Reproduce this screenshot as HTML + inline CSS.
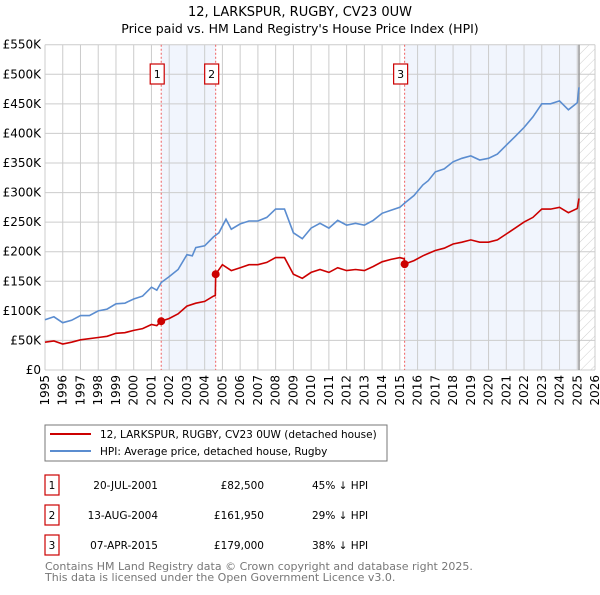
<!DOCTYPE html>
<html><head><meta charset="utf-8"><style>
body{margin:0;background:#fff;font-family:"Liberation Sans","DejaVu Sans",sans-serif;}
svg text{font-family:"DejaVu Sans","Liberation Sans",sans-serif;}
</style></head><body>
<svg id="c" width="600" height="590" viewBox="0 0 600 590" xmlns="http://www.w3.org/2000/svg">
<defs><pattern id="hatch" width="7" height="7" patternUnits="userSpaceOnUse" patternTransform="rotate(45)"><line x1="0" y1="0" x2="0" y2="7" stroke="#d0d0d0" stroke-width="1"/></pattern></defs>
<text x="300" y="16" text-anchor="middle" font-size="13">12, LARKSPUR, RUGBY, CV23 0UW</text>
<text x="300" y="33" text-anchor="middle" font-size="12.5">Price paid vs. HM Land Registry's House Price Index (HPI)</text>
<g id="plot"></g>
<rect x="45" y="425" width="342" height="36" fill="#fff" stroke="#777"/>
<line x1="50" y1="434" x2="91" y2="434" stroke="#cc0000" stroke-width="2"/>
<text x="100" y="438" font-size="10.5">12, LARKSPUR, RUGBY, CV23 0UW (detached house)</text>
<line x1="50" y1="451" x2="91" y2="451" stroke="#5b8dd0" stroke-width="2"/>
<text x="100" y="455" font-size="10.5">HPI: Average price, detached house, Rugby</text>
<g id="tbl" font-size="10.5"></g>
<text x="45" y="570" font-size="11" fill="#777">Contains HM Land Registry data © Crown copyright and database right 2025.</text>
<text x="45" y="581" font-size="11" fill="#777">This data is licensed under the Open Government Licence v3.0.</text>
</svg>
<script>
const hpiT=[1995,1995.5,1996,1996.5,1997,1997.5,1998,1998.5,1999,1999.5,2000,2000.5,2001,2001.3,2001.55,2002,2002.5,2003,2003.3,2003.5,2004,2004.5,2004.8,2005.2,2005.5,2006,2006.5,2007,2007.5,2008,2008.5,2009,2009.5,2010,2010.5,2011,2011.5,2012,2012.5,2013,2013.5,2014,2014.5,2015,2015.3,2015.8,2016.3,2016.6,2017,2017.5,2018,2018.5,2019,2019.5,2020,2020.5,2021,2021.5,2022,2022.5,2023,2023.5,2024,2024.5,2025,2025.1];
const hpiV=[85,90,80,84,92,92,100,103,112,113,120,125,140,135,148,158,170,195,193,207,210,225,232,255,238,247,252,252,258,272,272,232,222,240,248,240,253,245,248,245,253,265,270,275,283,295,313,320,335,340,352,358,362,355,358,365,380,395,410,428,450,450,455,440,452,478];
const redT=[1995,1995.5,1996,1996.5,1997,1998,1998.5,1999,1999.5,2000,2000.5,2001,2001.3,2001.55,2002,2002.5,2003,2003.5,2004,2004.5,2004.6,2004.62,2005,2005.5,2006,2006.5,2007,2007.5,2008,2008.5,2009,2009.5,2010,2010.5,2011,2011.5,2012,2012.5,2013,2013.5,2014,2014.5,2015,2015.25,2015.27,2015.8,2016.3,2016.6,2017,2017.5,2018,2018.5,2019,2019.5,2020,2020.5,2021,2021.5,2022,2022.5,2023,2023.5,2024,2024.5,2025,2025.1];
const redV=[47,49,44,47,51,55,57,62,63,67,70,77,75,82.5,87,95,108,113,116,125,126,161.95,178,168,173,178,178,182,190,190,162,155,165,170,165,173,168,170,168,175,183,187,190,188,179,185,193,197,202,206,213,216,220,216,216,220,230,240,250,258,272,272,275,266,273,290];
const saleT=[2001.55,2004.62,2015.27];
const saleV=[82.5,161.95,179];
const saleLabels=["1","2","3"];
const saleDates=["20-JUL-2001","13-AUG-2004","07-APR-2015"];
const salePrices=["£82,500","£161,950","£179,000"];
const saleHpi=["45% ↓ HPI","29% ↓ HPI","38% ↓ HPI"];
const yTicks=[0,50,100,150,200,250,300,350,400,450,500,550];
const yTickLabels=["£0","£50K","£100K","£150K","£200K","£250K","£300K","£350K","£400K","£450K","£500K","£550K"];
const xYears=[1995,1996,1997,1998,1999,2000,2001,2002,2003,2004,2005,2006,2007,2008,2009,2010,2011,2012,2013,2014,2015,2016,2017,2018,2019,2020,2021,2022,2023,2024,2025,2026];
const dataEnd=2025.1;

const L=45,R=595,T=44.7,B=370;
const x=t=>L+(t-1995)*(R-L)/31;
const y=v=>B-v*(B-T)/550;
const NS="http://www.w3.org/2000/svg";
const g=document.getElementById('plot');
function mk(tag,a,p){const e=document.createElementNS(NS,tag);for(const k in a)e.setAttribute(k,a[k]);(p||g).appendChild(e);return e;}
mk('rect',{x:L,y:T,width:R-L,height:B-T,fill:'#fff'});
let e;
e=mk('rect',{x:x(saleT[0]),y:T,width:x(saleT[1])-x(saleT[0]),height:B-T,fill:'#eef3fc',opacity:0.8});

e=mk('rect',{x:x(saleT[2]),y:T,width:x(dataEnd)-x(saleT[2]),height:B-T,fill:'#eef3fc',opacity:0.8});

e=mk('rect',{x:x(dataEnd),y:T,width:R-x(dataEnd),height:B-T,fill:'url(#hatch)'});

yTicks.forEach((v,i)=>{
 e=mk('line',{x1:L,x2:R,y1:y(v),y2:y(v),stroke:'#ccc','stroke-width':1});
 
 e=mk('text',{x:L-4,y:y(v)+4,'text-anchor':'end','font-size':12});e.textContent=yTickLabels[i];
 
});
xYears.forEach(t=>{
 e=mk('line',{x1:x(t),x2:x(t),y1:T,y2:B,stroke:'#ccc','stroke-width':1});
 
 e=mk('text',{x:0,y:0,'text-anchor':'end','font-size':12,transform:`translate(${x(t)+4},${B+5}) rotate(-90)`});e.textContent=t;
 
});
e=mk('line',{x1:x(dataEnd),x2:x(dataEnd),y1:T,y2:B,stroke:'#999','stroke-width':1.5});

saleT.forEach((t,i)=>{
 e=mk('line',{x1:x(t),x2:x(t),y1:T,y2:B,stroke:'#f06060','stroke-width':1,'stroke-dasharray':'2,2'});
 
});
const path=(ts,vs)=>ts.map((t,i)=>(i?'L':'M')+x(t).toFixed(1)+','+y(vs[i]).toFixed(1)).join('');
e=mk('path',{d:path(hpiT,hpiV),fill:'none',stroke:'#5b8dd0','stroke-width':1.6});

e=mk('path',{d:path(redT,redV),fill:'none',stroke:'#cc0000','stroke-width':1.6});

saleT.forEach((t,i)=>{
 e=mk('circle',{cx:x(t),cy:y(saleV[i]),r:4,fill:'#cc0000'});
 
 e=mk('rect',{x:x(t)-11,y:64,width:14,height:20,fill:'#fff',stroke:'#cc0000','stroke-width':1.2});
 
 e=mk('text',{x:x(t)-4,y:78,'text-anchor':'middle','font-size':11});e.textContent=saleLabels[i];
 
});
const tb=document.getElementById('tbl');
saleT.forEach((t,i)=>{
 const cy=483+i*30;
 e=mk('rect',{x:45,y:cy-8,width:14,height:20,fill:'#fff',stroke:'#cc0000','stroke-width':1.2},tb);
 
 e=mk('text',{x:52,y:cy+6,'text-anchor':'middle'},tb);e.textContent=saleLabels[i];
 
 e=mk('text',{x:158,y:cy+6,'text-anchor':'end'},tb);e.textContent=saleDates[i];
 
 e=mk('text',{x:264,y:cy+6,'text-anchor':'end'},tb);e.textContent=salePrices[i];
 
 e=mk('text',{x:312,y:cy+6},tb);e.textContent=saleHpi[i];
 
});
</script>
</body></html>
